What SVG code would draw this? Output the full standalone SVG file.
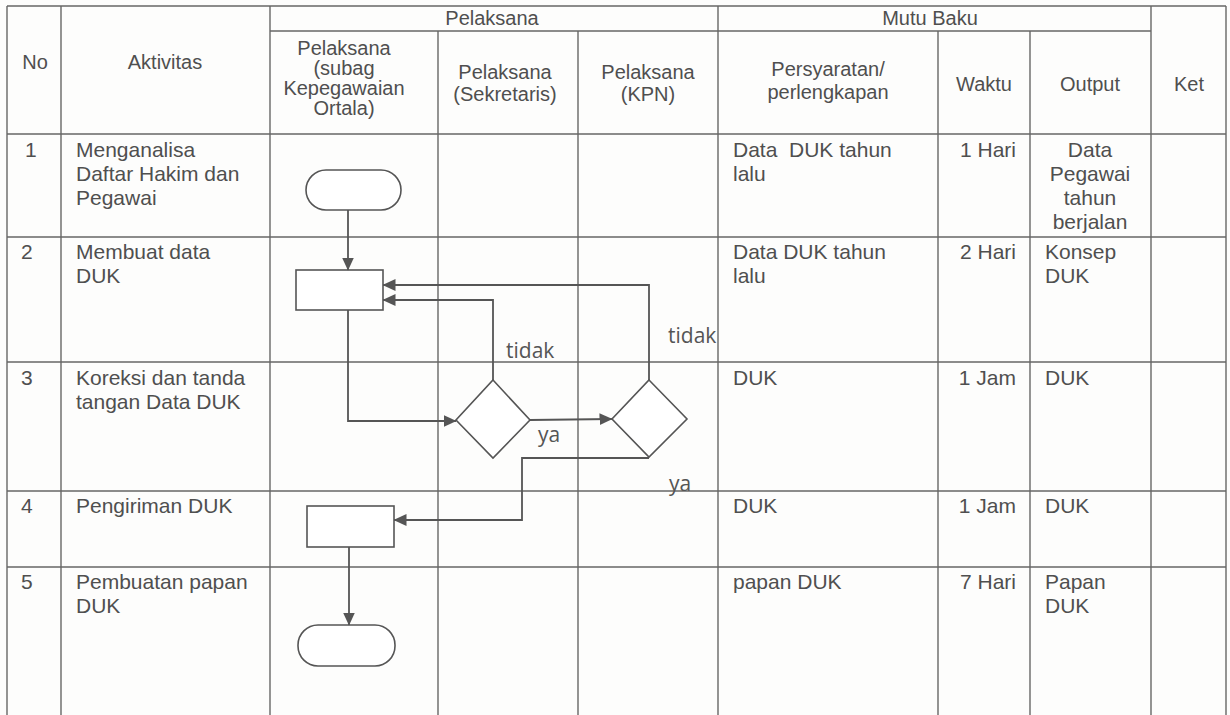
<svg xmlns="http://www.w3.org/2000/svg" width="1230" height="715" viewBox="0 0 1230 715">
<style>
.bg{fill:#fdfdfc}
.grid line{stroke:#666;stroke-width:1.4}
.t{font-family:"Liberation Sans",Arial,sans-serif;font-size:21px;fill:#4f4f4f}
.h{font-family:"Liberation Sans",Arial,sans-serif;font-size:20px;fill:#4f4f4f}
.c{text-anchor:middle}
.r{text-anchor:end}
.lbl{font-family:"Open Sans","Noto Sans",sans-serif;font-size:21px;fill:#555}
.shape{fill:#fff;stroke:#555;stroke-width:1.6}
.conn path{fill:none;stroke:#555;stroke-width:1.8}
</style>
<defs>
<marker id="arr" viewBox="0 0 13 12" refX="12.5" refY="6" markerWidth="13" markerHeight="12" markerUnits="userSpaceOnUse" orient="auto">
<path d="M0,0 L13,6 L0,12 z" fill="#555"/>
</marker>
</defs>
<rect class="bg" x="0" y="0" width="1230" height="715"/>

<g id="table" class="grid">
<line x1="7" y1="6" x2="1226" y2="6"/>
<line x1="270" y1="31" x2="1151" y2="31"/>
<line x1="7" y1="134" x2="1226" y2="134"/>
<line x1="7" y1="237" x2="1226" y2="237"/>
<line x1="7" y1="362" x2="1226" y2="362"/>
<line x1="7" y1="491" x2="1226" y2="491"/>
<line x1="7" y1="567" x2="1226" y2="567"/>
<line x1="7" y1="6" x2="7" y2="715"/>
<line x1="61" y1="6" x2="61" y2="715"/>
<line x1="270" y1="6" x2="270" y2="715"/>
<line x1="438" y1="31" x2="438" y2="715"/>
<line x1="578" y1="31" x2="578" y2="715"/>
<line x1="718" y1="6" x2="718" y2="715"/>
<line x1="938" y1="31" x2="938" y2="715"/>
<line x1="1030" y1="31" x2="1030" y2="715"/>
<line x1="1151" y1="6" x2="1151" y2="715"/>
<line x1="1226" y1="6" x2="1226" y2="715"/>
</g>

<g id="header">
<text class="h c" x="35" y="69">No</text>
<text class="h c" x="165" y="69">Aktivitas</text>
<text class="h c" x="492" y="25">Pelaksana</text>
<text class="h c" x="930" y="25">Mutu Baku</text>
<text class="h c" x="344" y="55">Pelaksana</text>
<text class="h c" x="344" y="75">(subag</text>
<text class="h c" x="344" y="95">Kepegawaian</text>
<text class="h c" x="344" y="115">Ortala)</text>
<text class="h c" x="505" y="79">Pelaksana</text>
<text class="h c" x="505" y="101">(Sekretaris)</text>
<text class="h c" x="648" y="79">Pelaksana</text>
<text class="h c" x="648" y="101">(KPN)</text>
<text class="h c" x="828" y="76">Persyaratan/</text>
<text class="h c" x="828" y="99">perlengkapan</text>
<text class="h c" x="984" y="91">Waktu</text>
<text class="h c" x="1090" y="91">Output</text>
<text class="h c" x="1189" y="91">Ket</text>
</g>

<g id="rows">
<text class="t" x="25" y="157">1</text>
<text class="t" x="76" y="157">Menganalisa</text>
<text class="t" x="76" y="181">Daftar Hakim dan</text>
<text class="t" x="76" y="205">Pegawai</text>
<text class="t" x="733" y="157" xml:space="preserve">Data  DUK tahun</text>
<text class="t" x="733" y="181">lalu</text>
<text class="t r" x="1016" y="157">1 Hari</text>
<text class="t c" x="1090" y="157">Data</text>
<text class="t c" x="1090" y="181">Pegawai</text>
<text class="t c" x="1090" y="205">tahun</text>
<text class="t c" x="1090" y="229">berjalan</text>

<text class="t" x="21" y="259">2</text>
<text class="t" x="76" y="259">Membuat data</text>
<text class="t" x="76" y="283">DUK</text>
<text class="t" x="733" y="259">Data DUK tahun</text>
<text class="t" x="733" y="283">lalu</text>
<text class="t r" x="1016" y="259">2 Hari</text>
<text class="t" x="1045" y="259">Konsep</text>
<text class="t" x="1045" y="283">DUK</text>

<text class="t" x="21" y="385">3</text>
<text class="t" x="76" y="385">Koreksi dan tanda</text>
<text class="t" x="76" y="409">tangan Data DUK</text>
<text class="t" x="733" y="385">DUK</text>
<text class="t r" x="1016" y="385">1 Jam</text>
<text class="t" x="1045" y="385">DUK</text>

<text class="t" x="21" y="513">4</text>
<text class="t" x="76" y="513">Pengiriman DUK</text>
<text class="t" x="733" y="513">DUK</text>
<text class="t r" x="1016" y="513">1 Jam</text>
<text class="t" x="1045" y="513">DUK</text>

<text class="t" x="21" y="589">5</text>
<text class="t" x="76" y="589">Pembuatan papan</text>
<text class="t" x="76" y="613">DUK</text>
<text class="t" x="733" y="589">papan DUK</text>
<text class="t r" x="1016" y="589">7 Hari</text>
<text class="t" x="1045" y="589">Papan</text>
<text class="t" x="1045" y="613">DUK</text>
</g>

<g id="start"><rect class="shape" x="306" y="170" width="95" height="40" rx="20" ry="20"/></g>
<g id="buat-data"><rect class="shape" x="296" y="270" width="87" height="40"/></g>
<g id="koreksi-sekretaris"><path class="shape" d="M493,380 L530,420 L493,458 L456,420 Z"/></g>
<g id="koreksi-kpn"><path class="shape" d="M649,380 L687,419 L649,457 L612,419 Z"/></g>
<g id="pengiriman"><rect class="shape" x="307" y="506" width="87" height="41"/></g>
<g id="end"><rect class="shape" x="298" y="625" width="97" height="41" rx="20" ry="20"/></g>

<g id="connectors" class="conn">
<path d="M348,210 L348,270" marker-end="url(#arr)"/>
<path d="M348,310 L348,421 L456,421" marker-end="url(#arr)"/>
<path d="M530,420 L612,419" marker-end="url(#arr)"/>
<path d="M493,380 L493,300 L383,300" marker-end="url(#arr)"/>
<path d="M649,380 L649,285 L383,285" marker-end="url(#arr)"/>
<path d="M649,458 L522,458 L522,520 L394,520" marker-end="url(#arr)"/>
<path d="M349,547 L349,625" marker-end="url(#arr)"/>
</g>

<g id="labels">
<text class="lbl" x="506" y="358">tidak</text>
<text class="lbl" x="668" y="343">tidak</text>
<text class="lbl" x="538" y="442">ya</text>
<text class="lbl" x="669" y="491">ya</text>
</g>
</svg>
